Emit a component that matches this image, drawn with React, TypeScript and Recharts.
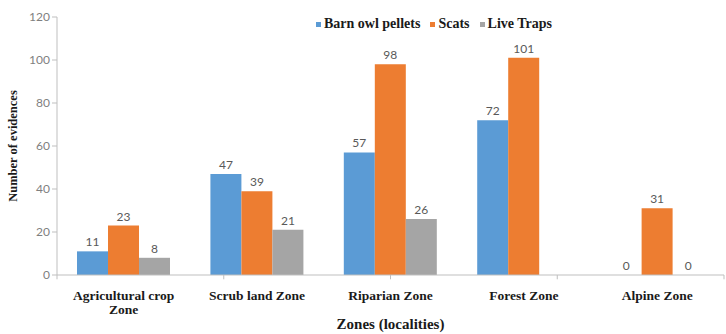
import { Bar, BarChart, LabelList, ReferenceLine, Text, XAxis, YAxis } from "recharts";

const categories = ["Agricultural crop Zone", "Scrub land Zone", "Riparian Zone", "Forest Zone", "Alpine Zone"];
const barnOwl = [11, 47, 57, 72, 0];
const scats = [23, 39, 98, 101, 31];
const liveTraps: (number | null)[] = [8, 21, 26, null, 0];
const yTicks = [0, 20, 40, 60, 80, 100, 120];
const boundaries = [0, 1, 2, 3, 4, 5];

const series = [
  { key: "barn", name: "Barn owl pellets", color: "#5B9BD5" },
  { key: "scats", name: "Scats", color: "#ED7D31" },
  { key: "live", name: "Live Traps", color: "#A5A5A5" },
];

const data = categories.map((c, i) => ({
  zone: c,
  barn: barnOwl[i],
  scats: scats[i],
  live: liveTraps[i],
}));

const serif = "'Liberation Serif', 'DejaVu Serif', serif";
const sans = "Lato, 'Open Sans', sans-serif";

function ZoneTick(props: any) {
  const { x, y, payload } = props;
  return (
    <Text
      x={x}
      y={y + 7}
      width={125}
      textAnchor="middle"
      verticalAnchor="start"
      fontFamily={serif}
      fontWeight="bold"
      fontSize={13.5}
      fill="#1a1a1a"
      lineHeight={14}
    >
      {payload.value}
    </Text>
  );
}

function TopLegend() {
  return (
    <div
      style={{
        position: "absolute",
        left: 316,
        top: 16,
        display: "flex",
        gap: 10,
        fontFamily: serif,
        fontWeight: "bold",
        fontSize: 14,
        color: "#1a1a1a",
        whiteSpace: "nowrap",
      }}
    >
      {series.map((s) => (
        <span key={s.key} style={{ display: "flex", alignItems: "center" }}>
          <span style={{ width: 5, height: 5, background: s.color, marginRight: 3 }} />
          {s.name}
        </span>
      ))}
    </div>
  );
}

export default function App() {
  return (
    <div style={{ position: "absolute", left: 0, top: 0, width: 726, height: 334, background: "#fff" }}>
      <BarChart
        width={726}
        height={334}
        data={data}
        margin={{ top: 17, right: 2, bottom: 0, left: 0 }}
        barCategoryGap="15%"
        barGap={0}
      >
        <XAxis
          dataKey="zone"
          interval={0}
          height={59}
          tickLine={false}
          axisLine={{ stroke: "#BFBFBF" }}
          tick={<ZoneTick />}
          label={{
            value: "Zones (localities)",
            position: "insideBottom",
            offset: 5,
            fontFamily: serif,
            fontWeight: "bold",
            fontSize: 15,
            fill: "#1a1a1a",
          }}
        />
        <XAxis xAxisId="n" type="number" domain={[0, 5]} hide />
        <YAxis
          width={57}
          domain={[0, 120]}
          ticks={yTicks}
          interval={0}
          tickSize={5}
          tickLine={{ stroke: "#BFBFBF" }}
          axisLine={{ stroke: "#BFBFBF" }}
          tick={{ fontFamily: sans, fontSize: 12, fill: "#7F7F7F" }}
          label={{
            value: "Number of evidences",
            angle: -90,
            position: "insideLeft",
            offset: 13,
            style: { textAnchor: "middle" },
            fontFamily: serif,
            fontWeight: "bold",
            fontSize: 12.5,
            fill: "#1a1a1a",
          }}
        />
        {boundaries.map((b) => (
          <ReferenceLine
            key={b}
            xAxisId="n"
            segment={[
              { x: b, y: 0 },
              { x: b, y: -2 },
            ]}
            stroke="#BFBFBF"
            ifOverflow="visible"
          />
        ))}
        {series.map((s) => (
          <Bar
            key={s.key}
            dataKey={s.key}
            name={s.name}
            fill={s.color}
            minPointSize={0.01}
            isAnimationActive={false}
          >
            <LabelList
              dataKey={s.key}
              position="top"
              offset={5}
              fontFamily={sans}
              fontSize={12}
              fill="#595959"
            />
          </Bar>
        ))}
      </BarChart>
      <TopLegend />
    </div>
  );
}
